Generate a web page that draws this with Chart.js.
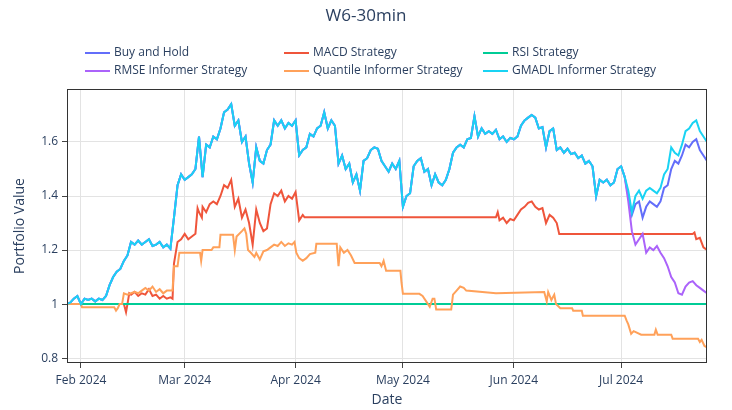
<!DOCTYPE html>
<html lang="en">
<head>
<meta charset="UTF-8">
<title>W6-30min</title>
<script src="https://cdn.jsdelivr.net/npm/chart.js"></script>
<style>
  body { margin: 0; background: #fff; }
  .chart-container { width: 732px; height: 410px; }
</style>
</head>
<body>
<div class="chart-container"><canvas id="portfolioChart"></canvas></div>
<script>
// x = days since 1 Feb 2024
const days = [-4,-3,-2,-1,0,1,2,3,4,5,6,7,8,9,10,11,12,13,14,15,16,17,18,19,20,21,22,23,24,25,26,27,28,29,30,31,32,33,34,35,36,37,38,39,40,41,42,43,44,45,46,47,48,49,50,51,52,53,54,55,56,57,58,59,60,61,62,63,64,65,66,67,68,69,70,71,72,73,74,75,76,77,78,79,80,81,82,83,84,85,86,87,88,89,90,91,92,93,94,95,96,97,98,99,100,101,102,103,104,105,106,107,108,109,110,111,112,113,114,115,116,117,118,119,120,121,122,123,124,125,126,127,128,129,130,131,132,133,134,135,136,137,138,139,140,141,142,143,144,145,146,147,148,149,150,151,152,153,154,155,156,157,158,159,160,161,162,163,164,165,166,167,168,169,170,171,172,173,174,175];

const monthDays = [0, 29, 60, 90, 121, 151];
const monthLabels = ["Feb 2024", "Mar 2024", "Apr 2024", "May 2024", "Jun 2024", "Jul 2024"];
const yTicks = [0.8, 1, 1.2, 1.4, 1.6];
const yTickLabels = ["0.8", "1", "1.2", "1.4", "1.6"];

const gmadlValues = [
  1.00,1.005,1.02,1.03,1.00,1.02,1.015,1.02,1.01,1.02,
  1.015,1.03,1.07,1.10,1.12,1.13,1.16,1.18,1.23,1.22,
  1.235,1.22,1.23,1.24,1.215,1.22,1.23,1.21,1.22,1.205,
  1.32,1.44,1.48,1.46,1.47,1.48,1.50,1.62,1.47,1.59,
  1.58,1.62,1.61,1.65,1.71,1.72,1.74,1.66,1.68,1.60,
  1.62,1.52,1.45,1.58,1.53,1.52,1.57,1.59,1.68,1.66,
  1.68,1.65,1.67,1.66,1.68,1.55,1.57,1.58,1.63,1.62,
  1.65,1.66,1.71,1.65,1.68,1.66,1.52,1.55,1.50,1.52,
  1.45,1.48,1.42,1.53,1.54,1.57,1.58,1.575,1.53,1.51,
  1.49,1.52,1.50,1.53,1.36,1.40,1.41,1.51,1.53,1.54,
  1.49,1.50,1.44,1.48,1.45,1.44,1.46,1.50,1.56,1.58,
  1.59,1.58,1.61,1.615,1.695,1.62,1.65,1.63,1.64,1.63,
  1.645,1.61,1.62,1.60,1.615,1.61,1.62,1.66,1.68,1.69,
  1.70,1.69,1.65,1.655,1.58,1.64,1.65,1.57,1.58,1.56,
  1.575,1.555,1.56,1.54,1.55,1.52,1.53,1.51,1.40,1.46,
  1.45,1.46,1.44,1.45,1.50,1.51,1.47,1.42,1.34,1.40,
  1.42,1.39,1.42,1.43,1.42,1.41,1.43,1.48,1.50,1.58,
  1.56,1.55,1.59,1.64,1.65,1.67,1.68,1.64,1.62,1.60
];

// Buy and Hold / RMSE follow the same path until day 153, then split off
const splitDay = 153;
const buyHoldTail = [1.40,1.33,1.37,1.38,1.32,1.36,1.38,1.37,1.36,1.38,1.43,1.44,1.50,1.53,1.52,1.55,1.59,1.58,1.60,1.61,1.57,1.55,1.53];
const rmseTail = [1.38,1.27,1.22,1.24,1.26,1.19,1.21,1.20,1.215,1.19,1.17,1.14,1.10,1.08,1.04,1.035,1.065,1.08,1.085,1.07,1.06,1.05,1.04];

const macdDays = [-4,12,12.6,13,13.5,14,15,16,17,18,19,20,21,22,23,24,25,25.6,26,27,28,29,30,31,32,32.6,33,33.8,34,35,36,37,38,39,40,41,42,43,44,45,46,47,48,49,50,51,52,53,54,55,56,57,58,59,60,61,62,62.5,116,116.5,117,118,119,120,121,122,123,124,125,126,127,128,129,130,131,132,133,133.7,171,171.5,172,173,174,175];
const macdValues = [1,1,0.97,1,1.04,1.035,1.045,1.03,1.04,1.035,1.055,1.03,1.035,1.02,1.03,1.02,1.025,1.02,1.15,1.23,1.24,1.26,1.24,1.25,1.26,1.355,1.34,1.32,1.36,1.34,1.37,1.38,1.37,1.40,1.44,1.43,1.46,1.36,1.39,1.32,1.35,1.30,1.22,1.35,1.30,1.27,1.28,1.37,1.41,1.40,1.42,1.38,1.40,1.39,1.415,1.31,1.33,1.321,1.321,1.34,1.31,1.32,1.30,1.315,1.31,1.33,1.35,1.36,1.375,1.38,1.36,1.35,1.355,1.30,1.33,1.32,1.30,1.259,1.259,1.265,1.24,1.245,1.21,1.20];

const rsiDays = [-4, 175];
const rsiValues = [1, 1];

const quantileDays = [-4,0,0.3,9.3,9.8,10.3,10.8,11.5,12,13,14,15,16,17,18,19,20,21,22,23,24,25.6,26,27,27.5,33.3,33.6,34,36.5,37,38.7,39,42.5,43,43.5,45,45.7,46.2,46.7,47.5,48.5,49,50,51,52,53,54,55,56,57,58,59,59.7,60.2,61,62,63,64,65.5,65.8,71.5,72,72.5,73.5,74.5,75.5,76.5,83.5,84,84.6,85.3,89.3,89.6,90,94.6,95.5,96.5,97.5,98.3,98.8,99.3,103.5,104,105,106,107,107.7,116,129.5,130.2,130.6,131.5,132.3,132.8,134,137.3,137.6,140,140.3,152,152.5,153,153.8,154.5,156.6,160.3,160.7,161.2,165,165.4,172.5,173,173.5,174.3,175];
const quantileValues = [1,1,0.988,0.988,0.976,0.985,1,1,1.04,1.035,1.04,1.045,1.04,1.05,1.06,1.05,1.065,1.045,1.055,1.04,1.05,1.05,1.14,1.14,1.19,1.19,1.16,1.20,1.20,1.21,1.21,1.257,1.257,1.20,1.25,1.27,1.28,1.26,1.20,1.19,1.175,1.19,1.165,1.195,1.20,1.21,1.22,1.215,1.23,1.215,1.225,1.22,1.23,1.19,1.17,1.16,1.17,1.185,1.19,1.223,1.223,1.14,1.21,1.19,1.20,1.18,1.152,1.152,1.14,1.16,1.123,1.123,1.08,1.038,1.038,1.03,1.01,0.99,1.02,1.02,0.98,0.98,1.035,1.05,1.065,1.06,1.05,1.04,1.045,1.01,1.045,1.015,1.035,1.0,0.985,0.985,0.975,0.975,0.957,0.957,0.94,0.925,0.89,0.9,0.887,0.887,0.905,0.887,0.887,0.872,0.872,0.86,0.868,0.845,0.84];

function toPoints(xs, ys) {
  return xs.map((x, i) => ({ x: x, y: ys[i] }));
}

const splitIndex = days.indexOf(splitDay);
const buyHoldValues = gmadlValues.slice(0, splitIndex).concat(buyHoldTail);
const rmseValues = gmadlValues.slice(0, splitIndex).concat(rmseTail);

const textColor = '#2a3f5f';
const fontFamily = '"Open Sans", Verdana, Arial, sans-serif';

// legend laid out as a 3 x 2 grid like the original
const gridLegend = {
  id: 'gridLegend',
  afterDraw(chart) {
    const ctx = chart.ctx;
    const colX = [85, 284, 483];
    const rowY = [53, 71];
    ctx.save();
    ctx.font = '12px ' + fontFamily;
    ctx.textBaseline = 'middle';
    chart.data.datasets.forEach((ds, i) => {
      const x = colX[i % 3];
      const y = rowY[Math.floor(i / 3)];
      ctx.strokeStyle = ds.borderColor;
      ctx.lineWidth = 2;
      ctx.beginPath();
      ctx.moveTo(x, y);
      ctx.lineTo(x + 25, y);
      ctx.stroke();
      ctx.fillStyle = textColor;
      ctx.fillText(ds.label, x + 29, y);
    });
    ctx.restore();
  }
};

// box around the plot area (mirrored axis lines)
const plotFrame = {
  id: 'plotFrame',
  afterDatasetsDraw(chart) {
    const a = chart.chartArea;
    const ctx = chart.ctx;
    ctx.save();
    ctx.strokeStyle = '#333';
    ctx.lineWidth = 1;
    ctx.strokeRect(a.left + 0.5, a.top + 0.5, a.right - a.left - 1, a.bottom - a.top - 1);
    ctx.restore();
  }
};

function line(label, color, points, order) {
  return {
    label: label,
    data: points,
    borderColor: color,
    backgroundColor: color,
    borderWidth: 2,
    pointRadius: 0,
    tension: 0,
    fill: false,
    order: order
  };
}

new Chart(document.getElementById('portfolioChart'), {
  type: 'line',
  data: {
    datasets: [
      line('Buy and Hold', '#636efa', toPoints(days, buyHoldValues), 5),
      line('MACD Strategy', '#ef553b', toPoints(macdDays, macdValues), 4),
      line('RSI Strategy', '#00cc96', toPoints(rsiDays, rsiValues), 3),
      line('RMSE Informer Strategy', '#ab63fa', toPoints(days, rmseValues), 2),
      line('Quantile Informer Strategy', '#ffa15a', toPoints(quantileDays, quantileValues), 1),
      line('GMADL Informer Strategy', '#19d3f3', toPoints(days, gmadlValues), 0)
    ]
  },
  options: {
    responsive: true,
    maintainAspectRatio: false,
    animation: false,
    layout: { padding: 0 },
    plugins: {
      legend: { display: false },
      tooltip: { enabled: false },
      title: {
        display: true,
        text: 'W6-30min',
        color: textColor,
        font: { family: fontFamily, size: 17, weight: 'normal' },
        padding: { top: 6, bottom: 62.6 }
      }
    },
    scales: {
      x: {
        type: 'linear',
        min: -3.9,
        max: 175,
        afterBuildTicks: scale => { scale.ticks = monthDays.map(v => ({ value: v })); },
        afterFit: scale => { scale.height = 47; },
        ticks: {
          color: textColor,
          font: { family: fontFamily, size: 12 },
          padding: 5,
          maxRotation: 0,
          callback: (value, index) => monthLabels[index]
        },
        grid: { color: '#e3e3e3', tickLength: 5, tickColor: '#444' },
        border: { display: false },
        title: {
          display: true,
          text: 'Date',
          color: textColor,
          font: { family: fontFamily, size: 14 },
          padding: { top: 0, bottom: 2 }
        }
      },
      y: {
        min: 0.782,
        max: 1.796,
        afterBuildTicks: scale => { scale.ticks = yTicks.map(v => ({ value: v })); },
        afterFit: scale => { scale.width = 67; },
        ticks: {
          color: textColor,
          font: { family: fontFamily, size: 12 },
          padding: 4,
          callback: (value, index) => yTickLabels[index]
        },
        grid: { color: '#e3e3e3', tickLength: 5, tickColor: '#444' },
        border: { display: false },
        title: {
          display: true,
          text: 'Portfolio Value',
          color: textColor,
          font: { family: fontFamily, size: 14 },
          padding: { top: 12, bottom: 0 }
        }
      },
      // empty right-hand margin so the title centres on the full width
      yRight: {
        position: 'right',
        min: 0.782,
        max: 1.796,
        afterFit: scale => { scale.width = 25; },
        ticks: { display: false },
        grid: { display: false },
        border: { display: false }
      }
    }
  },
  plugins: [gridLegend, plotFrame]
});
</script>
</body>
</html>
